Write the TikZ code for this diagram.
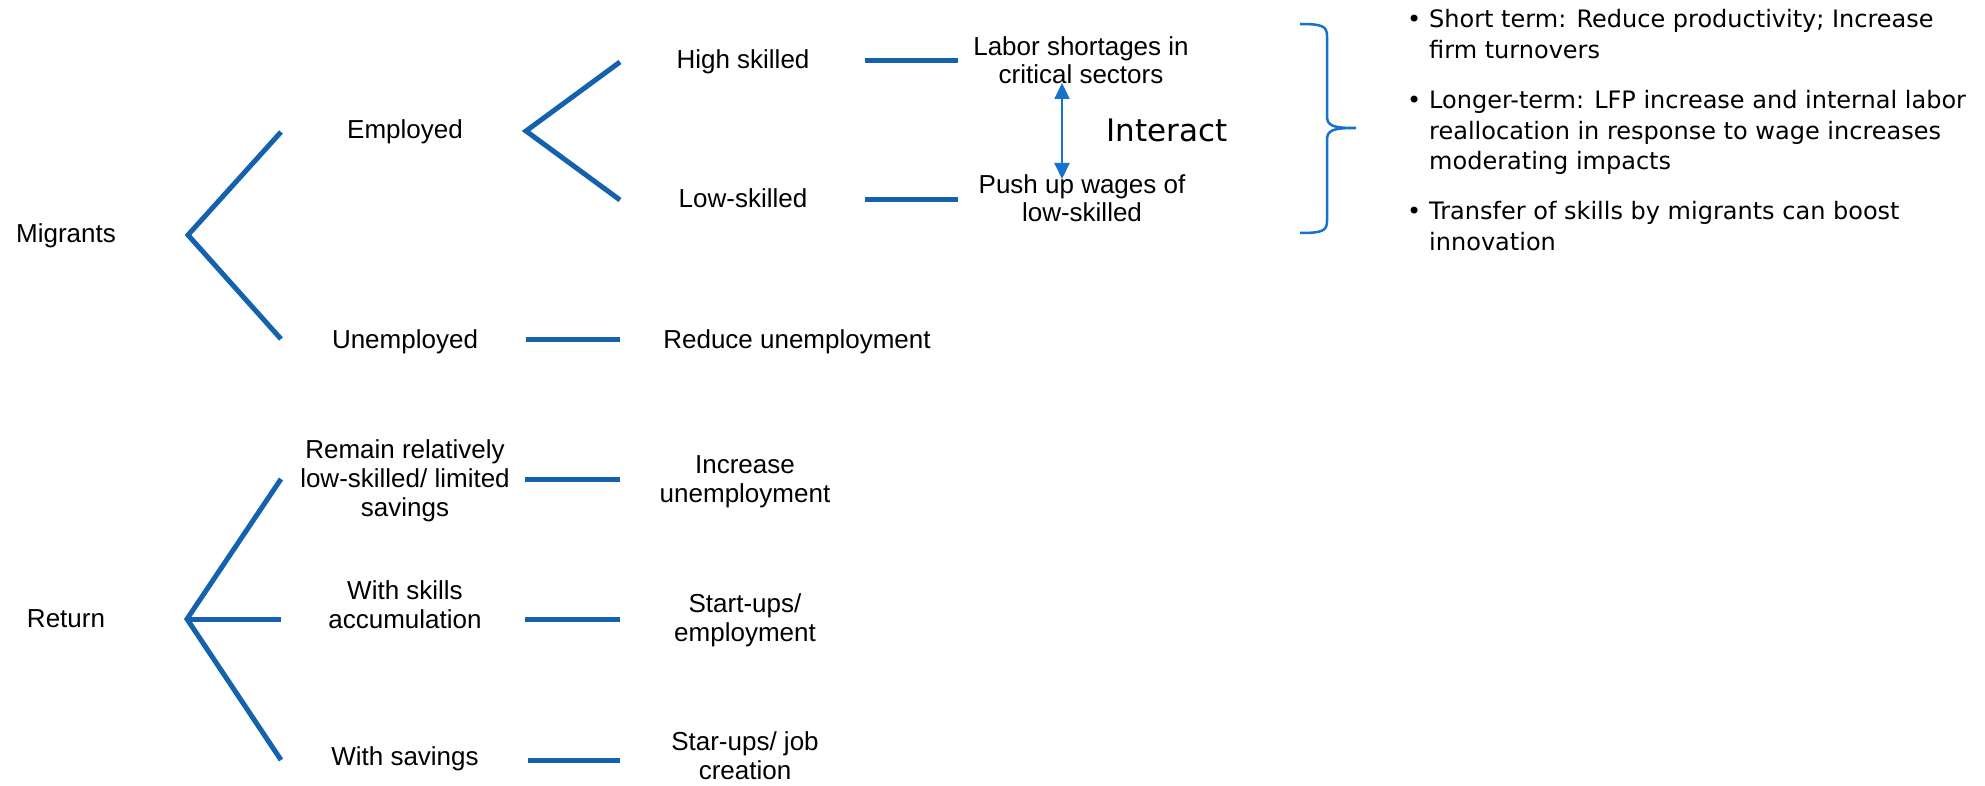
\documentclass[tikz,border=0pt]{standalone}
\usepackage{fontspec}
\setmainfont{Liberation Sans}
\newfontfamily\bulletfont{DejaVu Sans}
\usetikzlibrary{arrows.meta}
\definecolor{linecol}{HTML}{1462AE}
\definecolor{bracecol}{HTML}{1672CC}
\begin{document}
\begin{tikzpicture}[x=1pt,y=-1pt,
  lbl/.style={font=\fontsize{26}{28.8}\selectfont, align=center, anchor=base, inner sep=0pt},
  branch/.style={draw=linecol, line width=5pt, line cap=butt, line join=miter},
  bul/.style={font=\bulletfont\fontsize{24}{30.5}\selectfont, align=left, anchor=base west, inner sep=0pt},
  interactlbl/.style={font=\bulletfont\fontsize{31}{36}\selectfont, anchor=base, inner sep=0pt},
  bracestyle/.style={draw=bracecol, line width=2.5pt},
  dblarrow/.style={draw=bracecol, line width=2.2pt, {Triangle[width=15pt,length=16pt]}-{Triangle[width=15pt,length=16pt]}}
]
\fill[white] (0,0) rectangle (1985,786);
\useasboundingbox (0,0) rectangle (1985,786);

% ---------- Migrants tree ----------
\node[lbl] (mig) at (66,243) {Migrants};
\node[lbl] (emp) at (405,139) {Employed};
\node[lbl] (unemp) at (405,348) {Unemployed};
\node[lbl] (high) at (743,69) {High skilled};
\node[lbl] (low) at (743,208) {Low-skilled};
\node[lbl] (labor) at (1081,84) {Labor shortages in\\critical sectors};
\node[lbl] (push) at (1082,222) {Push up wages of\\low-skilled};
\node[lbl] (reduce) at (797,348) {Reduce unemployment};
\node[interactlbl] (interact) at (1167,142) {Interact};

\coordinate (mv) at (188,235);
\coordinate (mvu) at (281,132);
\coordinate (mvd) at (281,339);
\draw[branch] (mvu) -- (mv) -- (mvd);

\coordinate (ev) at (526,131);
\coordinate (evu) at (620,62);
\coordinate (evd) at (620,200);
\draw[branch] (evu) -- (ev) -- (evd);

\coordinate (hl1) at (865,61);
\coordinate (hl2) at (958,61);
\draw[branch] (hl1) -- (hl2);
\coordinate (ll1) at (865,200);
\coordinate (ll2) at (958,200);
\draw[branch] (ll1) -- (ll2);
\coordinate (ul1) at (526,339);
\coordinate (ul2) at (620,339);
\draw[branch] (ul1) -- (ul2);

% interact arrow
\coordinate (atop) at (1062,83);
\coordinate (abot) at (1062,179);
\draw[dblarrow] (atop) -- (abot);

% brace
\coordinate (btop) at (1300,24);
\coordinate (btip) at (1356,128);
\coordinate (bbot) at (1300,233);
\draw[bracestyle] (btop) .. controls (1322,24) and (1327,26) .. (1327,36)
  -- (1327,116) .. controls (1327,126) and (1333,128) .. (btip)
  .. controls (1333,128) and (1327,130) .. (1327,140)
  -- (1327,221) .. controls (1327,231) and (1322,233) .. (bbot);

% bullets
\node[bul] (b1dot) at (1407,28) {•};
\node[bul] (b1) at (1429,58.5) {Short term: Reduce productivity; Increase\\firm turnovers};
\node[bul] (b2dot) at (1407,109) {•};
\node[bul] (b2) at (1429,170) {Longer-term: LFP increase and internal labor\\reallocation in response to wage increases\\moderating impacts};
\node[bul] (b3dot) at (1407,220) {•};
\node[bul] (b3) at (1429,250.5) {Transfer of skills by migrants can boost\\innovation};

% ---------- Return tree ----------
\node[lbl] (ret) at (66,627) {Return};
\node[lbl] (remain) at (405,516) {Remain relatively\\low-skilled/ limited\\savings};
\node[lbl] (skills) at (405,628) {With skills\\accumulation};
\node[lbl] (sav) at (405,765) {With savings};
\node[lbl] (inc) at (745,502) {Increase\\unemployment};
\node[lbl] (start) at (745,641) {Start-ups/\\employment};
\node[lbl] (star) at (745,779) {Star-ups/ job\\creation};

\coordinate (rv) at (187,619);
\coordinate (rvu) at (281,479);
\coordinate (rvm) at (281,619);
\coordinate (rvd) at (281,760);
\draw[branch] (rvu) -- (rv) -- (rvd);
\draw[branch] (rv) -- (rvm);

\coordinate (rl1) at (525,479);
\coordinate (rl2) at (620,479);
\draw[branch] (rl1) -- (rl2);
\coordinate (sl1) at (525,619);
\coordinate (sl2) at (620,619);
\draw[branch] (sl1) -- (sl2);
\coordinate (vl1) at (528,760);
\coordinate (vl2) at (620,760);
\draw[branch] (vl1) -- (vl2);
\end{tikzpicture}
\end{document}
